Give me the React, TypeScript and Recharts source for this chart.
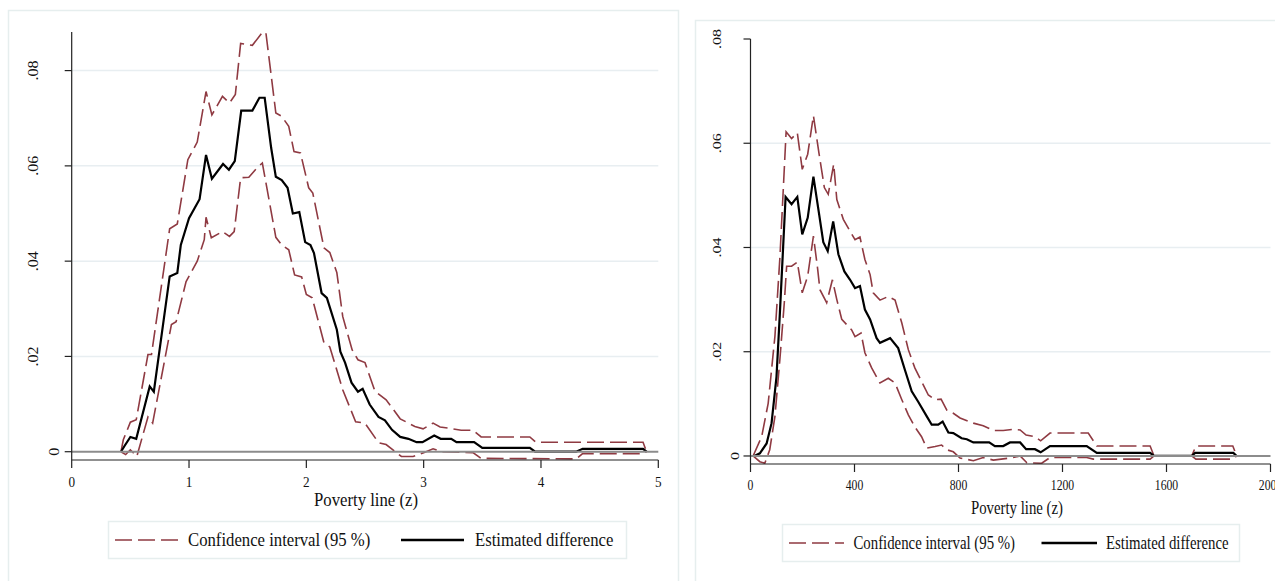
import React from 'react';
import { LineChart, Line, XAxis, YAxis, CartesianGrid, ReferenceLine } from 'recharts';

// [poverty line z, difference] pairs
const leftEstimate: [number, number][] = [
  [0.42, 0], [0.45, 0.0012], [0.5, 0.0031], [0.55, 0.0027], [0.665, 0.0137], [0.7, 0.0126],
  [0.835, 0.0368], [0.9, 0.0375], [0.93, 0.0434], [1.0, 0.049], [1.09, 0.053], [1.145, 0.0623],
  [1.195, 0.0573], [1.29, 0.0604], [1.34, 0.0592], [1.39, 0.061], [1.445, 0.0716], [1.54, 0.0716],
  [1.6, 0.0743], [1.645, 0.0743], [1.7, 0.0638], [1.74, 0.0577], [1.79, 0.057], [1.84, 0.0554],
  [1.885, 0.05], [1.94, 0.0503], [1.99, 0.044], [2.035, 0.0434], [2.065, 0.0417], [2.13, 0.0333],
  [2.175, 0.0323], [2.26, 0.0256], [2.29, 0.021], [2.33, 0.0187], [2.385, 0.0145], [2.44, 0.0126],
  [2.48, 0.0132], [2.54, 0.0099], [2.615, 0.0073], [2.67, 0.0066], [2.73, 0.0046], [2.8, 0.0031],
  [2.87, 0.0027], [2.94, 0.002], [2.99, 0.002], [3.09, 0.0034], [3.145, 0.0027], [3.235, 0.0027],
  [3.28, 0.002], [3.43, 0.002], [3.5, 0.0008], [3.905, 0.0008], [3.95, 0], [4.3, 0],
  [4.355, 0.0006], [4.87, 0.0006], [4.9, 0],
];

const leftUpper: [number, number][] = [
  [0.42, 0], [0.44, 0.0025], [0.5, 0.0062], [0.55, 0.0067], [0.65, 0.0204], [0.68, 0.0204],
  [0.835, 0.0468], [0.9, 0.0478], [0.99, 0.0613], [1.07, 0.065], [1.145, 0.0756], [1.195, 0.0707],
  [1.285, 0.0746], [1.345, 0.0732], [1.395, 0.075], [1.44, 0.0857], [1.54, 0.0853], [1.625, 0.088],
  [1.655, 0.088], [1.74, 0.0711], [1.79, 0.0704], [1.85, 0.0683], [1.895, 0.063], [1.95, 0.0627],
  [2.02, 0.0554], [2.055, 0.0543], [2.15, 0.0428], [2.2, 0.0418], [2.26, 0.0376], [2.31, 0.0284],
  [2.39, 0.0214], [2.44, 0.0193], [2.5, 0.0187], [2.585, 0.0127], [2.68, 0.0109], [2.8, 0.0069],
  [2.925, 0.0053], [2.995, 0.0048], [3.08, 0.006], [3.14, 0.0052], [3.25, 0.0048], [3.32, 0.0045],
  [3.42, 0.0045], [3.49, 0.0031], [3.905, 0.0031], [3.955, 0.002], [4.87, 0.002], [4.9, 0],
];

const leftLower: [number, number][] = [
  [0.42, 0], [0.46, -0.0006], [0.5, 0.0004], [0.555, -0.001], [0.65, 0.0073], [0.69, 0.006],
  [0.85, 0.0267], [0.89, 0.0273], [0.975, 0.0357], [1.07, 0.04], [1.13, 0.0445], [1.145, 0.0492],
  [1.19, 0.0449], [1.285, 0.0462], [1.345, 0.0452], [1.385, 0.0462], [1.44, 0.0575], [1.51, 0.0576],
  [1.58, 0.0596], [1.625, 0.0606], [1.74, 0.045], [1.79, 0.0434], [1.85, 0.0424], [1.9, 0.0371],
  [1.96, 0.0367], [2.0, 0.033], [2.05, 0.0323], [2.15, 0.0229], [2.2, 0.022], [2.31, 0.013],
  [2.42, 0.0063], [2.5, 0.006], [2.615, 0.0019], [2.68, 0.0015], [2.81, -0.001], [2.91, -0.001],
  [3.0, -0.0002], [3.08, 0.0006], [3.15, 0], [3.42, -0.0002], [3.49, -0.0014], [4.3, -0.0015],
  [4.355, -0.0004], [4.87, -0.0004], [4.9, 0],
];

const rightEstimate: [number, number][] = [
  [15, 0], [36, 0.0005], [62, 0.0024], [81, 0.0063], [100, 0.0152], [113, 0.0274], [120, 0.0345],
  [135, 0.0497], [158, 0.0483], [180, 0.0497], [199, 0.0425], [220, 0.0457], [242, 0.0536],
  [263, 0.0467], [280, 0.041], [297, 0.0393], [318, 0.045], [338, 0.0387], [361, 0.0354],
  [383, 0.0338], [402, 0.0322], [421, 0.0326], [440, 0.0281], [460, 0.0262], [485, 0.0226],
  [498, 0.0217], [537, 0.0226], [568, 0.0207], [594, 0.0165], [620, 0.0124], [645, 0.0104],
  [678, 0.0076], [697, 0.006], [722, 0.006], [739, 0.0066], [761, 0.0045], [780, 0.0044],
  [812, 0.0034], [832, 0.0032], [857, 0.0026], [918, 0.0026], [940, 0.0019], [972, 0.0019],
  [998, 0.0026], [1037, 0.0026], [1060, 0.0013], [1094, 0.0013], [1116, 0.0007], [1152, 0.0019],
  [1293, 0.0019], [1332, 0.0006], [1537, 0.0006], [1552, 0], [1697, 0], [1710, 0.0006],
  [1857, 0.0006], [1870, 0],
];

const rightUpper: [number, number][] = [
  [10, 0], [43, 0.0037], [68, 0.0101], [94, 0.023], [113, 0.038], [137, 0.0622], [158, 0.0609],
  [180, 0.062], [199, 0.055], [220, 0.0579], [242, 0.0653], [263, 0.0582], [284, 0.0515],
  [299, 0.0502], [320, 0.056], [332, 0.0492], [357, 0.0454], [383, 0.0431], [402, 0.0415],
  [421, 0.042], [440, 0.0377], [460, 0.0348], [472, 0.0313], [498, 0.0299], [530, 0.0306],
  [556, 0.0299], [582, 0.0255], [607, 0.0204], [632, 0.0169], [664, 0.0137], [684, 0.0117],
  [710, 0.0108], [733, 0.0109], [755, 0.0088], [780, 0.0082], [806, 0.0073], [857, 0.0063],
  [895, 0.0058], [934, 0.0049], [972, 0.0049], [1011, 0.0051], [1037, 0.005], [1060, 0.004],
  [1094, 0.0037], [1116, 0.0029], [1152, 0.0044], [1299, 0.0044], [1332, 0.0019], [1537, 0.0019],
  [1552, 0], [1697, 0], [1713, 0.0019], [1855, 0.0019], [1870, 0],
];

const rightLower: [number, number][] = [
  [10, 0], [36, -0.0011], [55, -0.0014], [74, 0.0012], [94, 0.0076], [113, 0.0185], [130, 0.0294],
  [139, 0.0364], [158, 0.0364], [180, 0.0372], [199, 0.0313], [220, 0.0345], [242, 0.0422],
  [258, 0.036], [267, 0.0319], [293, 0.0294], [315, 0.0338], [332, 0.03], [351, 0.0262],
  [389, 0.0242], [402, 0.0229], [425, 0.0236], [440, 0.0198], [466, 0.0169], [498, 0.014],
  [530, 0.0149], [556, 0.014], [582, 0.0108], [607, 0.0079], [632, 0.0056], [658, 0.0037],
  [678, 0.0015], [710, 0.0018], [735, 0.0021], [755, 0.0012], [780, 0.0008], [806, -0.0004],
  [857, -0.0009], [895, -0.0003], [934, -0.0008], [998, -0.0004], [1037, 0], [1063, -0.0013],
  [1120, -0.0014], [1152, -0.0003], [1293, -0.0003], [1318, -0.0006], [1537, -0.0006], [1552, 0],
  [1697, 0], [1713, -0.0006], [1855, -0.0006], [1870, 0],
];

const leftXTicks = [0, 1, 2, 3, 4, 5];
const rightXTicks = [0, 400, 800, 1200, 1600, 2000];
const yTicks = [0, 0.02, 0.04, 0.06, 0.08];
const yTickLabels: Record<string, string> = { '0': '0', '0.02': '.02', '0.04': '.04', '0.06': '.06', '0.08': '.08' };

const xTitle = 'Poverty line (z)';
const ciLabel = 'Confidence interval (95 %)';
const estLabel = 'Estimated difference';

const SERIF = '"Liberation Serif", "DejaVu Serif", "Times New Roman", serif';
const CI_COLOR = '#8f3a42';
const GRID_COLOR = '#e8eef1';
const ZERO_COLOR = '#8c8c8c';
const AXIS_COLOR = '#222';
const FRAME_COLOR = '#e6eeee';
const DASH = '17 6';

const toRows = (pairs: [number, number][]) => pairs.map(([z, v]) => ({ z, v }));

const Cond = ({ x, y, sx, size, anchor = 'middle', rotate = 0, children }: any) => (
  <g transform={`translate(${x},${y}) scale(${sx},1) rotate(${rotate})`}>
    <text
      x={0}
      y={0}
      textAnchor={anchor}
      dominantBaseline="central"
      fill="#111"
      style={{ fontFamily: SERIF, fontSize: size }}
    >
      {children}
    </text>
  </g>
);

const makeXTick = (sx: number, dy: number) => (props: any) => (
  <Cond x={props.x} y={props.y + dy} sx={sx} size={15}>
    {String(props.payload.value)}
  </Cond>
);

// rotated y labels; Stata sets the lone "0" closer to the axis
const makeYTick = (sx: number, far: number, near: number) => (props: any) => {
  const v = props.payload.value;
  const axisX = props.x + 9;
  return (
    <Cond x={axisX - (v === 0 ? near : far)} y={props.y} sx={sx} size={16} rotate={-90}>
      {yTickLabels[String(v)]}
    </Cond>
  );
};

interface PanelProps {
  left: number;
  width: number;
  margin: { top: number; right: number; bottom: number; left: number };
  xDomain: [number, number];
  yDomain: [number, number];
  xTicks: number[];
  gridValues: number[];
  upper: [number, number][];
  lower: [number, number][];
  estimate: [number, number][];
  sx: number;
  xTickDy: number;
  yFar: number;
  yNear: number;
}

const Panel = (p: PanelProps) => (
  <div style={{ position: 'absolute', left: p.left, top: 0 }}>
    <LineChart width={p.width} height={581} margin={p.margin}>
      <CartesianGrid vertical={false} horizontalValues={p.gridValues} stroke={GRID_COLOR} strokeWidth={1.5} />
      <XAxis
        dataKey="z"
        type="number"
        domain={p.xDomain}
        ticks={p.xTicks}
        allowDataOverflow
        height={30}
        tickSize={8}
        tickMargin={2}
        axisLine={{ stroke: AXIS_COLOR, strokeWidth: 1.2 }}
        tickLine={{ stroke: AXIS_COLOR, strokeWidth: 1.2 }}
        tick={makeXTick(p.sx, p.xTickDy)}
        interval={0}
      />
      <YAxis
        type="number"
        domain={p.yDomain}
        ticks={yTicks}
        allowDataOverflow
        width={60}
        tickSize={7}
        tickMargin={2}
        axisLine={{ stroke: AXIS_COLOR, strokeWidth: 1.2 }}
        tickLine={{ stroke: AXIS_COLOR, strokeWidth: 1.2 }}
        tick={makeYTick(p.sx, p.yFar, p.yNear)}
        interval={0}
      />
      <Line data={toRows(p.upper)} dataKey="v" type="linear" stroke={CI_COLOR} strokeWidth={1.6}
        strokeDasharray={DASH} dot={false} isAnimationActive={false} />
      <Line data={toRows(p.lower)} dataKey="v" type="linear" stroke={CI_COLOR} strokeWidth={1.6}
        strokeDasharray={DASH} dot={false} isAnimationActive={false} />
      <Line data={toRows(p.estimate)} dataKey="v" type="linear" stroke="#000" strokeWidth={2.2}
        dot={false} isAnimationActive={false} />
      <ReferenceLine y={0} stroke={ZERO_COLOR} strokeWidth={2} />
    </LineChart>
  </div>
);

const LegendAndTitle = ({ titleX, titleY, box, sx }: any) => (
  <g>
    <Cond x={titleX} y={titleY} sx={sx} size={19}>{xTitle}</Cond>
    <rect x={box.x} y={box.y} width={box.w} height={box.h} fill="#fff" stroke={FRAME_COLOR} strokeWidth={1.5} />
    <line x1={box.dash[0]} x2={box.dash[1]} y1={box.cy} y2={box.cy} stroke={CI_COLOR} strokeWidth={1.6} strokeDasharray={DASH} />
    <Cond x={box.ciText} y={box.cy} sx={sx} size={19} anchor="start">{ciLabel}</Cond>
    <line x1={box.solid[0]} x2={box.solid[1]} y1={box.cy} y2={box.cy} stroke="#000" strokeWidth={2.4} />
    <Cond x={box.estText} y={box.cy} sx={sx} size={19} anchor="start">{estLabel}</Cond>
  </g>
);

export default function App() {
  return (
    <div style={{ position: 'absolute', left: 0, top: 0, width: 1275, height: 581, overflow: 'hidden', background: '#fff' }}>
      <svg width={1275} height={581} style={{ position: 'absolute', left: 0, top: 0 }}>
        <rect x={8.5} y={10.5} width={670} height={620} fill="none" stroke={FRAME_COLOR} strokeWidth={1.5} />
        <rect x={695.5} y={20.5} width={700} height={620} fill="none" stroke={FRAME_COLOR} strokeWidth={1.5} />
      </svg>
      <Panel
        left={0}
        width={680}
        margin={{ top: 32, right: 21.7, bottom: 91, left: 11.7 }}
        xDomain={[0, 5]}
        yDomain={[-0.00174, 0.0881]}
        xTicks={leftXTicks}
        gridValues={[0.02, 0.04, 0.06, 0.08]}
        upper={leftUpper}
        lower={leftLower}
        estimate={leftEstimate}
        sx={0.88}
        xTickDy={11.7}
        yFar={38}
        yNear={17.5}
      />
      <Panel
        left={680}
        width={595}
        margin={{ top: 39, right: 4.5, bottom: 87, left: 10.5 }}
        xDomain={[0, 2000]}
        yDomain={[-0.00154, 0.08]}
        xTicks={rightXTicks}
        gridValues={[0.02, 0.04, 0.06]}
        upper={rightUpper}
        lower={rightLower}
        estimate={rightEstimate}
        sx={0.78}
        xTickDy={11}
        yFar={33.5}
        yNear={15.5}
      />
      <svg width={1275} height={581} style={{ position: 'absolute', left: 0, top: 0, pointerEvents: 'none' }}>
        <LegendAndTitle
          titleX={366}
          titleY={500}
          sx={0.88}
          box={{ x: 108.5, y: 521.5, w: 518, h: 37, cy: 540, dash: [115, 179], ciText: 188, solid: [401, 464], estText: 475 }}
        />
        <LegendAndTitle
          titleX={1017}
          titleY={508}
          sx={0.78}
          box={{ x: 782.5, y: 524.5, w: 457, h: 37, cy: 543, dash: [789, 844], ciText: 853.5, solid: [1041.5, 1097], estText: 1106 }}
        />
      </svg>
    </div>
  );
}
